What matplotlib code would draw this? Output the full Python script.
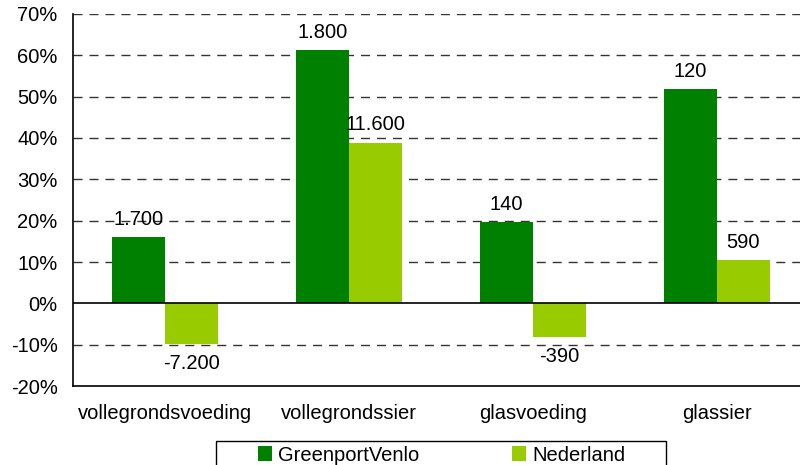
import numpy as np
import matplotlib.pyplot as plt
from matplotlib.ticker import FuncFormatter
from matplotlib.patches import Rectangle

plt.rcParams['font.family'] = ['Liberation Sans', 'DejaVu Sans']

categories = ['vollegrondsvoeding', 'vollegrondssier', 'glasvoeding', 'glassier']
series = ['GreenportVenlo', 'Nederland']
venlo_pct = [16.0, 61.2, 19.6, 51.8]
nl_pct = [-9.9, 38.8, -8.2, 10.4]
venlo_labels = ['1.700', '1.800', '140', '120']
nl_labels = ['-7.200', '11.600', '-390', '590']
colors = ['#008000', '#99CC00']
fs = 14.5

fig = plt.figure(figsize=(8, 4.65), dpi=100)
ax = fig.add_axes([73/800, 1-386/465, 736/800, 372/465])

x = np.arange(len(categories))
w = 0.288
b1 = ax.bar(x - w/2, venlo_pct, w, color=colors[0], label=series[0], zorder=3)
b2 = ax.bar(x + w/2, nl_pct, w, color=colors[1], label=series[1], zorder=3)

# value labels above positive bars, below negative bars
for bars, labels in [(b1, venlo_labels), (b2, nl_labels)]:
    for bar, lab in zip(bars, labels):
        h = bar.get_height()
        cx = bar.get_x() + bar.get_width()/2
        off = 13 if h >= 0 else -14
        ax.annotate(lab, (cx, h), xytext=(0, off), textcoords='offset points',
                    ha='center', va='center', fontsize=fs, zorder=4)

ax.set_xlim(-0.5, 3.5)
ax.set_ylim(-20, 70)
ax.set_yticks(np.arange(-20, 71, 10))
ax.yaxis.set_major_formatter(FuncFormatter(lambda v, p: f'{int(v)}%'))
ax.set_xticks(x)
ax.set_xticklabels(categories)
ax.tick_params(axis='y', length=0, pad=11, labelsize=fs)
ax.tick_params(axis='x', length=0, pad=13, labelsize=fs)

for v in range(-10, 71, 10):
    if v != 0:
        ax.axhline(v, color='#333333', lw=1, linestyle=(0, (6.5, 5)), zorder=1)
ax.axhline(0, color='black', lw=1.2, zorder=4)

ax.spines['top'].set_visible(False)
ax.spines['right'].set_visible(False)
ax.spines['left'].set_linewidth(1.2)
ax.spines['bottom'].set_linewidth(1.2)

# legend box (runs off the bottom of the picture)
fig.patches.append(Rectangle((216/800, -0.05), 450/800, 0.05 + 1-441/465,
                             transform=fig.transFigure, fill=False,
                             edgecolor='black', lw=1))
fig.legend(handles=[b1, b2], loc='center', ncol=2,
           bbox_to_anchor=(442/800, 1-455/465),
           frameon=False, fontsize=fs, handlelength=0.7, handleheight=0.7,
           handletextpad=0.3, columnspacing=4.6, borderaxespad=0)

fig.savefig('out.png', dpi=100)
